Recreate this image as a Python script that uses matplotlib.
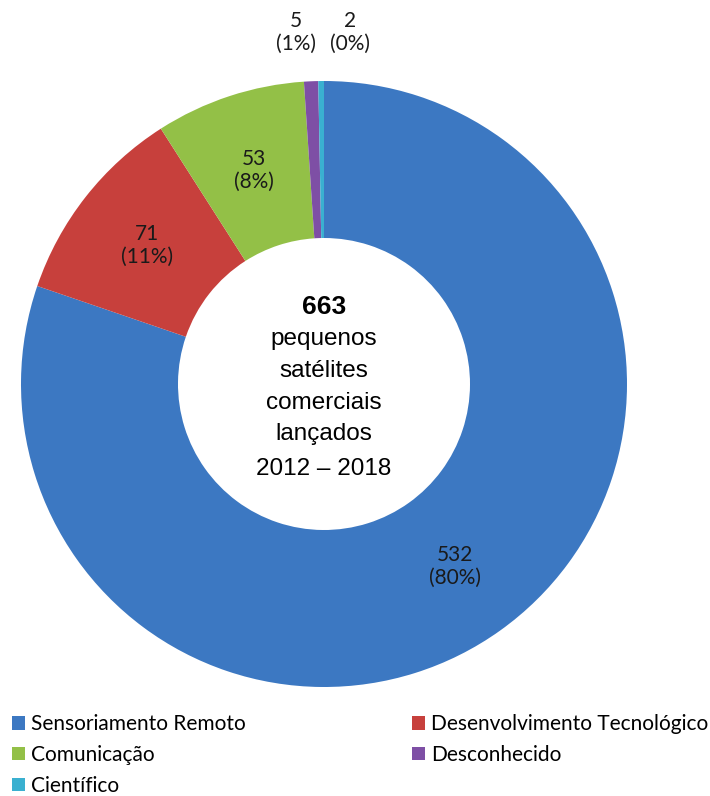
import matplotlib
matplotlib.use("Agg")
import matplotlib.pyplot as plt
import numpy as np
from matplotlib.patches import Patch

categories = ["Sensoriamento Remoto", "Desenvolvimento Tecnológico", "Comunicação",
              "Desconhecido", "Científico"]
values = [532, 71, 53, 5, 2]
percents = ["80%", "11%", "8%", "1%", "0%"]
colors = ["#3c78c2", "#c7403c", "#93c047", "#7e4fa5", "#3ab0d0"]
center_total = "663"
center_lines = ["pequenos", "satélites", "comerciais", "lançados", "2012 – 2018"]

W, H = 710, 796
fig = plt.figure(figsize=(W / 100, H / 100), dpi=100)
cx, cy, R = 324, 384, 303
ax = fig.add_axes([(cx - R) / W, (H - cy - R) / H, 2 * R / W, 2 * R / H])
ax.axis("off")

inner = 146 / R
wedges, _ = ax.pie(values, colors=colors, startangle=90, counterclock=False,
                   radius=1, wedgeprops=dict(width=1 - inner, linewidth=0))
ax.set_xlim(-1, 1)
ax.set_ylim(-1, 1)
ax.set_aspect("equal")

lab_font = "Lato"
mid_r = (1 + inner) / 2
for i, w in enumerate(wedges):
    ang = np.deg2rad((w.theta1 + w.theta2) / 2)
    txt = f"{values[i]}\n({percents[i]})"
    if values[i] >= 20:
        x, y = mid_r * np.cos(ang), mid_r * np.sin(ang)
        ax.text(x, y, txt, ha="center", va="center", fontsize=15,
                family=lab_font, color="#1a1a1a", linespacing=1.2)
    else:
        x = np.cos(ang)
        shift = -0.05 if i == 3 else 0.095
        ax.text(x + shift, 1.16, txt, ha="center", va="center", fontsize=15,
                family=lab_font, color="#1a1a1a", linespacing=1.2)

ax.text(0, 0.255, center_total, ha="center", va="center", fontsize=19,
        fontweight="bold", family="Liberation Sans", color="black")
ys = [0.150, 0.044, -0.062, -0.164, -0.279]
for t, y in zip(center_lines, ys):
    ax.text(0, y, t, ha="center", va="center", fontsize=17.5,
            family="Liberation Sans", color="black")

order = [0, 2, 4, 1, 3]
handles = [Patch(facecolor=colors[i], edgecolor="none") for i in order]
labels = [categories[i] for i in order]
fig.legend(handles, labels, loc="upper left", bbox_to_anchor=(6 / W, (H - 708) / H),
           ncol=2, frameon=False, prop=dict(family=lab_font, size=15),
           handlelength=0.6, handleheight=0.6, handletextpad=0.3,
           columnspacing=8.0, labelspacing=0.52, borderaxespad=0.0,
           borderpad=0.3)

fig.savefig("out.png", dpi=100, facecolor="white")
